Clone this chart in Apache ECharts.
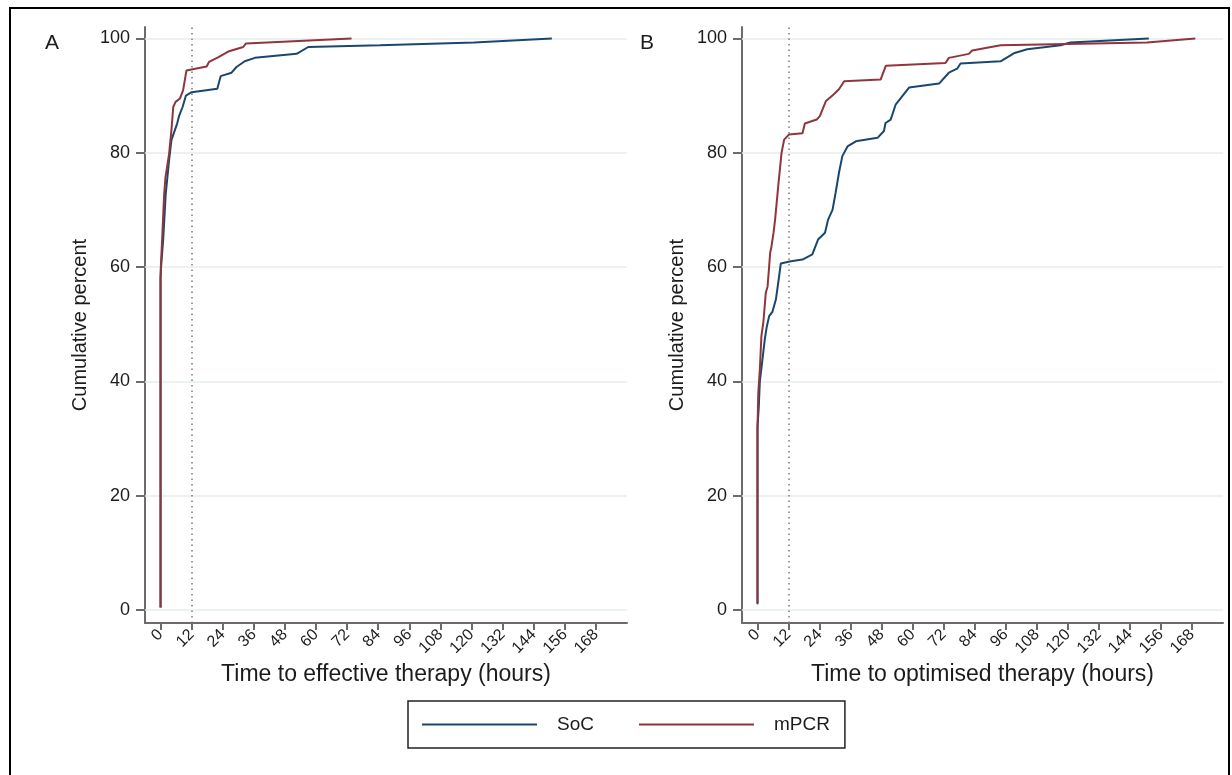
<!DOCTYPE html>
<html>
<head>
<meta charset="utf-8">
<script src="https://cdn.jsdelivr.net/npm/echarts@6/dist/echarts.min.js"></script>
<style>
  html, body { margin: 0; padding: 0; background: #fff; }
  #main { width: 1232px; height: 775px; }
</style>
</head>
<body>
<div id="main"></div>
<script>
// tick labels
const xTicks = [0, 12, 24, 36, 48, 60, 72, 84, 96, 108, 120, 132, 144, 156, 168];
const yTicks = [0, 20, 40, 60, 80, 100];
const cutoff = 12;

// Panel A: time to effective therapy (hours) vs cumulative percent
const socA_h = [0, 0, 0.2, 1.0, 2.0, 3.3, 4.2, 5.5, 6.4, 7.2, 8.5, 9.8, 12, 21.9, 23.2, 27.4, 29.3, 32.5, 36.4, 52.5, 57, 84.7, 121, 151];
const socA_p = [0.4, 58, 60, 64.7, 72.8, 78.7, 82.2, 83.9, 85.1, 86.5, 88, 90, 90.6, 91.2, 93.4, 94, 95, 96, 96.6, 97.3, 98.5, 98.8, 99.3, 100];
const pcrA_h = [0, 0, 0.1, 0.6, 1.4, 1.9, 3.3, 4.2, 4.9, 5.8, 7.5, 8.7, 10, 10.7, 17.8, 18.7, 22.2, 26.1, 26.8, 31.9, 32.9, 37, 73.7];
const pcrA_p = [0.4, 58, 60, 64.7, 72.8, 75.7, 79.8, 83.9, 88, 88.9, 89.5, 90.9, 94.4, 94.5, 95.1, 95.9, 96.7, 97.7, 98, 98.5, 99.1, 99.2, 100];

// Panel B: time to optimised therapy (hours) vs cumulative percent
const socB_h = [0, 0, 0.5, 0.9, 1.9, 2.8, 3.6, 4.5, 5.8, 7.1, 8.0, 9.0, 12.9, 17.4, 21.2, 23.4, 26.1, 27.3, 29, 30.2, 31.5, 32.8, 34.8, 38, 46.4, 48.9, 49.5, 51.5, 53.4, 56, 58.6, 70.2, 74, 77.2, 78.5, 94, 99.1, 104.3, 117.2, 121, 151.3];
const socB_p = [1, 32, 35.6, 40, 43.8, 47.3, 49.6, 51.4, 52.2, 54.3, 57.2, 60.6, 61, 61.3, 62.2, 64.8, 66, 68.3, 70, 73, 76.5, 79.4, 81.1, 82, 82.6, 83.8, 85.2, 85.8, 88.4, 89.9, 91.4, 92.1, 94, 94.7, 95.6, 96, 97.4, 98.1, 98.8, 99.3, 100];
const pcrB_h = [0, 0, 0.3, 0.9, 1.5, 2.3, 3.2, 3.9, 4.9, 5.4, 6.2, 6.8, 8.0, 9.3, 10.3, 12.2, 17.4, 18.3, 22.9, 24.1, 26.4, 29.4, 31.5, 33.5, 47.6, 49.6, 72.7, 74, 81.7, 83, 94, 150.6, 169.3];
const pcrB_p = [1.2, 32, 38, 42, 47.9, 50.5, 55.5, 56.6, 62.5, 63.6, 66, 68.3, 74.1, 80, 82.3, 83.2, 83.4, 85.1, 85.8, 86.4, 89, 90.2, 91.1, 92.5, 92.8, 95.2, 95.7, 96.6, 97.3, 97.9, 98.8, 99.3, 100];

const zip = (h, p) => h.map((v, i) => [v, p[i]]);

const FONT = '"Liberation Sans", Arial, sans-serif';
const AXIS_COLOR = '#6b6b6b';
const TEXT = '#1c1c1c';
const SOC = '#1a476f';
const PCR = '#90353b';

function xAxis(idx, name) {
  return {
    gridIndex: idx, type: 'value', min: -6, max: 180,
    name: name, nameLocation: 'middle', nameGap: 38,
    nameTextStyle: { fontFamily: FONT, fontSize: 23, color: TEXT },
    axisLine: { show: true, onZero: false, lineStyle: { color: AXIS_COLOR, width: 2 } },
    axisTick: { show: true, length: 7, customValues: xTicks, lineStyle: { color: AXIS_COLOR, width: 2 } },
    axisLabel: { customValues: xTicks, rotate: 45, margin: 9, fontFamily: FONT, fontSize: 16, color: TEXT },
    splitLine: { show: false }
  };
}
function yAxis(idx) {
  return {
    gridIndex: idx, type: 'value', min: -2.3, max: 102,
    name: 'Cumulative percent', nameLocation: 'middle', nameGap: 55, nameRotate: 90,
    nameTextStyle: { fontFamily: FONT, fontSize: 20, color: TEXT },
    axisLine: { show: true, onZero: false, lineStyle: { color: AXIS_COLOR, width: 2 } },
    axisTick: { show: true, length: 9, customValues: yTicks, lineStyle: { color: AXIS_COLOR, width: 2 } },
    axisLabel: { customValues: yTicks, margin: 15, fontFamily: FONT, fontSize: 18, color: TEXT },
    splitLine: { show: false }
  };
}
function guides(idx) {
  return {
    type: 'line', xAxisIndex: idx, yAxisIndex: idx, data: [], z: 1, silent: true,
    markLine: {
      silent: true, symbol: 'none', animation: false, z: 1,
      label: { show: false },
      data: yTicks.map(v => ({ yAxis: v, lineStyle: { color: '#e6eef0', width: 1.5, type: 'solid' } }))
        .concat([{ xAxis: cutoff, lineStyle: { color: '#7a7a7a', width: 1.5, type: [1.5, 4] } }])
    }
  };
}
function curve(name, idx, data, color) {
  return {
    name: name, type: 'line', xAxisIndex: idx, yAxisIndex: idx, data: data, z: 3,
    showSymbol: false, symbol: 'none', animation: false,
    lineStyle: { color: color, width: 2 }, itemStyle: { color: color }
  };
}

const chart = echarts.init(document.getElementById('main'), null, { renderer: 'canvas' });
chart.setOption({
  backgroundColor: '#fff',
  animation: false,
  grid: [
    { left: 145, top: 27, width: 482, height: 596 },
    { left: 742, top: 27, width: 481, height: 596 }
  ],
  title: [
    { text: 'A', left: 40, top: 28, textStyle: { fontFamily: FONT, fontSize: 21, fontWeight: 'normal', color: TEXT } },
    { text: 'B', left: 635, top: 28, textStyle: { fontFamily: FONT, fontSize: 21, fontWeight: 'normal', color: TEXT } }
  ],
  legend: {
    data: ['SoC', 'mPCR'],
    left: 408, top: 701,
    padding: [14, 15, 14, 14],
    borderColor: '#222', borderWidth: 1.5,
    itemWidth: 115, itemHeight: 2, itemGap: 45,
    icon: 'rect',
    textStyle: { fontFamily: FONT, fontSize: 19, color: TEXT, padding: [0, 0, 0, 15] }
  },
  graphic: [
    { type: 'rect', shape: { x: 10, y: 8, width: 1219, height: 790 }, style: { fill: 'none', stroke: '#000', lineWidth: 2 }, silent: true }
  ],
  xAxis: [xAxis(0, 'Time to effective therapy (hours)'), xAxis(1, 'Time to optimised therapy (hours)')],
  yAxis: [yAxis(0), yAxis(1)],
  series: [
    guides(0), guides(1),
    curve('SoC', 0, zip(socA_h, socA_p), SOC),
    curve('mPCR', 0, zip(pcrA_h, pcrA_p), PCR),
    curve('SoC', 1, zip(socB_h, socB_p), SOC),
    curve('mPCR', 1, zip(pcrB_h, pcrB_p), PCR)
  ]
});
</script>
</body>
</html>
